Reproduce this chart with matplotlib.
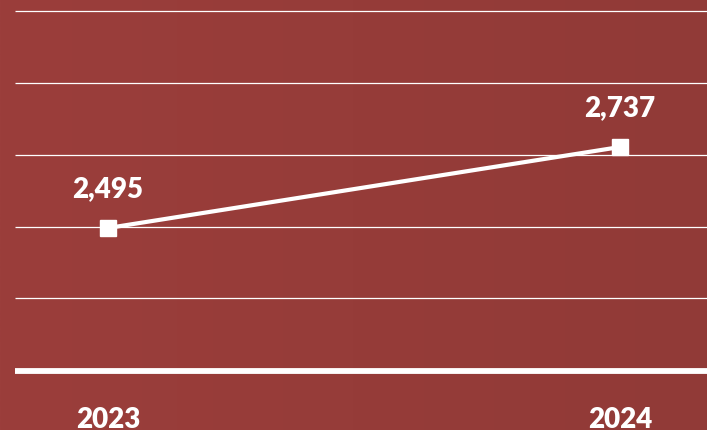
import matplotlib.pyplot as plt
import numpy as np
from matplotlib.colors import LinearSegmentedColormap

years = ['2023', '2024']
values = [2495, 2737]
grid_values = [2068, 2286, 2498, 2713, 2928, 3143]

bg = '#973d3a'

fig = plt.figure(figsize=(7.07, 4.31), dpi=100, facecolor=bg)
ax = fig.add_axes([0, 0, 1, 1])
ax.set_facecolor(bg)

# subtle left-to-right shading of the panel
grad = np.linspace(0, 1, 256).reshape(1, -1)
cmap = LinearSegmentedColormap.from_list('bg', ['#9b3e3b', '#913a37'])
ax.imshow(grad, cmap=cmap, aspect='auto', extent=[-0.2109, 1.1699, 1891.5, 3179.2], zorder=0)

x = np.arange(len(years))
ax.set_xlim(-0.2109, 1.1699)
ax.set_ylim(1891.5, 3179.2)

for g in grid_values[1:]:
    ax.axhline(g, xmin=15 / 707, xmax=1, color='white', lw=0.9, zorder=1,
               solid_capstyle='butt')
ax.axhline(grid_values[0], xmin=15 / 707, xmax=1, color='white', lw=4.2, zorder=1,
           solid_capstyle='butt')

ax.plot(x, values, color='white', lw=3, marker='s', markersize=11,
        markeredgecolor='white', markerfacecolor='white', zorder=3)

for xi, v in zip(x, values):
    ax.annotate(f'{v:,}', (xi, v), xytext=(0, 29), textcoords='offset points',
                ha='center', va='center', color='white', fontsize=20,
                fontweight='heavy', family='Lato')

for xi, yr in zip(x, years):
    ax.text(xi, 1 - 420 / 431, yr, transform=ax.get_xaxis_transform(),
            ha='center', va='center', color='white', fontsize=20,
            fontweight='heavy', family='Lato')

ax.axis('off')
fig.savefig('out.png', dpi=100, facecolor=bg)
